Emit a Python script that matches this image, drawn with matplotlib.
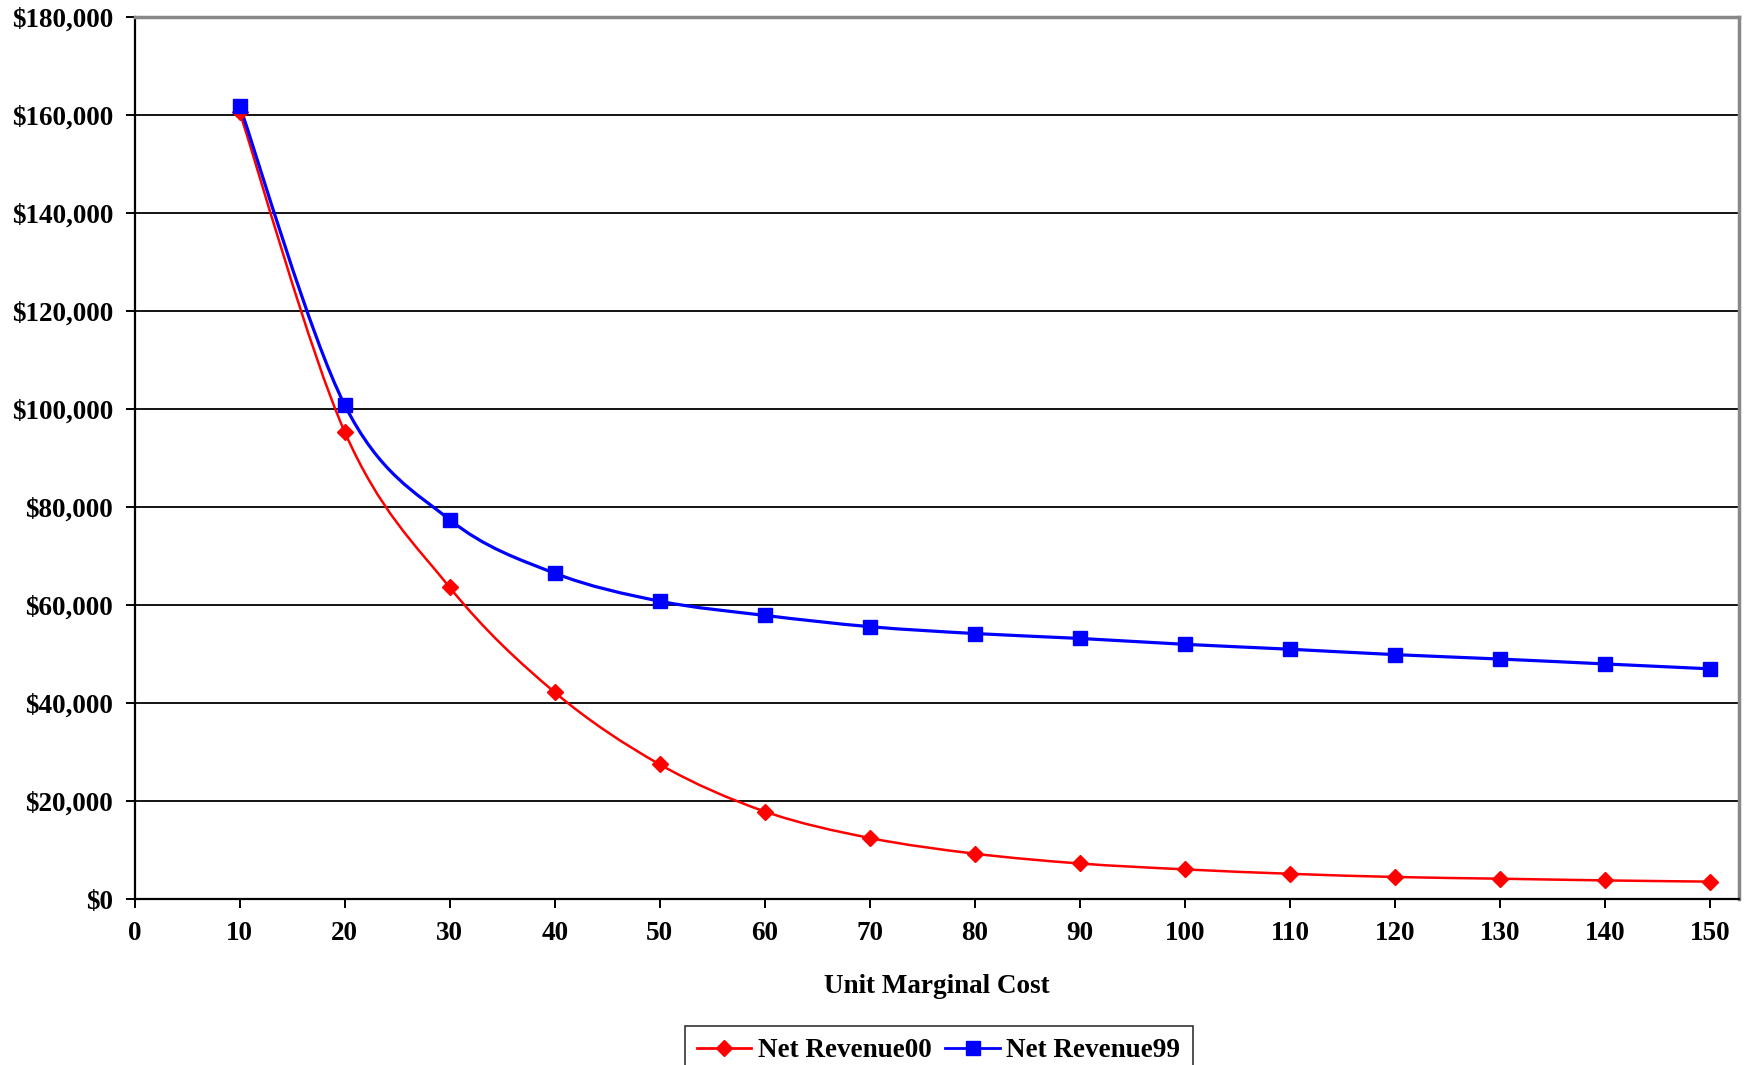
import matplotlib
matplotlib.use('Agg')
import matplotlib.pyplot as plt
from matplotlib.path import Path
from matplotlib.patches import PathPatch
from matplotlib.lines import Line2D
from matplotlib.ticker import FuncFormatter
import numpy as np

# data
unit_cost = [10, 20, 30, 40, 50, 60, 70, 80, 90, 100, 110, 120, 130, 140, 150]
net_revenue00 = [160500, 95300, 63600, 42200, 27500, 17900, 12500, 9300,
                 7300, 6100, 5200, 4550, 4200, 3850, 3600]
net_revenue99 = [161800, 100800, 77400, 66500, 60800, 57900, 55600, 54200,
                 53200, 52000, 51000, 49900, 49000, 48000, 47000]

plt.rcParams['font.family'] = ['Liberation Serif', 'DejaVu Serif']
plt.rcParams['font.weight'] = 'bold'


def smooth_path(xs, ys):
    # Excel style smoothed line: cubic bezier through each point
    pts = np.column_stack([xs, ys]).astype(float)
    n = len(pts)
    verts = [pts[0]]
    codes = [Path.MOVETO]
    for i in range(n - 1):
        p0 = pts[i - 1] if i > 0 else pts[i]
        p1 = pts[i]
        p2 = pts[i + 1]
        p3 = pts[i + 2] if i + 2 < n else pts[i + 1]
        c1 = p1 + (p2 - p0) / 6.0
        c2 = p2 - (p3 - p1) / 6.0
        verts += [c1, c2, p2]
        codes += [Path.CURVE4] * 3
    return Path(verts, codes)


fig = plt.figure(figsize=(17.45, 10.65), dpi=100)
ax = fig.add_axes([0.0772, 0.1556, 0.9196, 0.8287])

ax.add_patch(PathPatch(smooth_path(unit_cost, net_revenue00), fill=False,
                       edgecolor='#ff0000', lw=1.8, zorder=3))
ax.plot(unit_cost, net_revenue00, linestyle='none', marker='D', ms=8.5,
        color='#ff0000', zorder=4)
ax.add_patch(PathPatch(smooth_path(unit_cost, net_revenue99), fill=False,
                       edgecolor='#0000ff', lw=2.3, zorder=3))
ax.plot(unit_cost, net_revenue99, linestyle='none', marker='s', ms=10.5,
        color='#0000ff', zorder=4)

ax.set_xlim(0, 152.8)
ax.set_ylim(0, 180000)
ax.set_xticks(range(0, 151, 10))
ax.set_yticks(range(0, 180001, 20000))
ax.yaxis.set_major_formatter(FuncFormatter(lambda v, p: '${:,.0f}'.format(v)))
ax.grid(axis='y', color='black', lw=1.3)
ax.set_axisbelow(True)

for s in ['left', 'bottom']:
    ax.spines[s].set_color('black')
    ax.spines[s].set_linewidth(1.6)
for s in ['top', 'right']:
    ax.spines[s].set_color('#888888')
    ax.spines[s].set_linewidth(2.5)

ax.tick_params(axis='both', direction='out', length=6.5, width=1.4,
               labelsize=19.5, pad=9)
for lab in ax.get_xticklabels() + ax.get_yticklabels():
    lab.set_fontweight('bold')

ax.set_xlabel('Unit Marginal Cost', fontsize=19.5, fontweight='bold', labelpad=20)

handles = [
    Line2D([], [], color='#ff0000', lw=2, marker='D', ms=8.5),
    Line2D([], [], color='#0000ff', lw=2, marker='s', ms=10.5),
]
leg = fig.legend(handles, ['Net Revenue00', 'Net Revenue99'], ncol=2,
                 loc='upper center', bbox_to_anchor=(0.538, 0.0366),
                 borderaxespad=0, frameon=True, fancybox=False, shadow=False,
                 handlelength=2.0, handletextpad=0.25, columnspacing=0.5,
                 borderpad=0.45, prop={'weight': 'bold', 'size': 19.5})
leg.get_frame().set_edgecolor('black')
leg.get_frame().set_linewidth(1.2)

fig.savefig('out.png', dpi=100)
